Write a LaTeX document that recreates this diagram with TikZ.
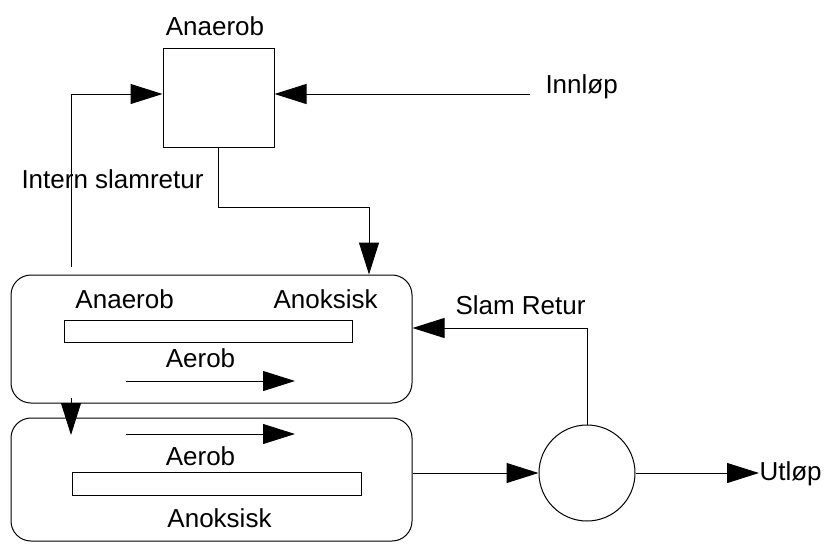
\documentclass[tikz,border=0pt]{standalone}
\usepackage{fontspec}
\setmainfont{Liberation Sans}
\usetikzlibrary{arrows.meta}
\begin{document}
\begin{tikzpicture}[x=0.5pt,y=-0.5pt,line width=0.5pt,
  arr/.style={-{Triangle[length=16pt,width=10pt]}},
  lbl/.style={font=\fontsize{13pt}{15pt}\selectfont,inner sep=0pt},
  tank/.style={draw,rounded corners=10pt,minimum width=200.5pt,inner sep=0pt},
  bar/.style={draw,inner sep=0pt},
  box/.style={draw,inner sep=0pt,minimum width=55.5pt,minimum height=49.5pt}]
\useasboundingbox (0,0) rectangle (826,543);
% nodes
\node[box] (anbox) at (218.5,97.5) {};
\node[lbl,anchor=base] (antop) at (215,35) {Anaerob};
\node[lbl,anchor=base west] (innlop) at (545,93) {Innløp};
\node[lbl,anchor=base west] (intern) at (21,188) {Intern slamretur};
\node[tank,minimum height=64pt] (tank1) at (211.5,339) {};
\node[tank,minimum height=61.5pt] (tank2) at (211.5,479.5) {};
\node[bar,minimum width=144pt,minimum height=11pt] (bar1) at (208,331) {};
\node[bar,minimum width=144.5pt,minimum height=11.5pt] (bar2) at (216.5,483.5) {};
\node[lbl,anchor=base west] (t1an) at (75,308) {Anaerob};
\node[lbl,anchor=base west] (t1ak) at (273,308) {Anoksisk};
\node[lbl,anchor=base] (t1ae) at (200.5,367) {Aerob};
\node[lbl,anchor=base] (t2ae) at (200.5,465) {Aerob};
\node[lbl,anchor=base] (t2ak) at (219.5,527) {Anoksisk};
\node[draw,circle,minimum size=48pt,inner sep=0pt] (sep) at (587,473) {};
\node[lbl,anchor=base west] (slamr) at (455,314) {Slam Retur};
\node[lbl,anchor=base west] (utl) at (759,480) {Utløp};
% coordinates
\coordinate (inl) at (530,94);
\coordinate (ir) at (71,267);
\coordinate (drop) at (369,207);
\coordinate (t12) at (71,435);
\coordinate (slam) at (587,328);
\coordinate (a1s) at (126,381);
\coordinate (a1e) at (295,381);
\coordinate (a2s) at (126,434);
\coordinate (a2e) at (295,434);
% connectors
\draw[arr] (inl) -- (inl -| anbox.east);
\draw[arr] (ir) |- (inl -| anbox.west);
\draw[arr] (anbox.south) |- (drop) -- (drop |- tank1.north);
\draw[arr] ([yshift=3pt]tank1.south -| t12) -- (t12);
\draw[arr] (sep.north) -- (slam) -- (slam -| tank1.east);
\draw[arr] (sep -| tank2.east) -- (sep.west);
\draw[arr] (sep.east) -- (sep.east -| utl.west);
\draw[arr] (a1s) -- (a1e);
\draw[arr] (a2s) -- (a2e);
\end{tikzpicture}
\end{document}
